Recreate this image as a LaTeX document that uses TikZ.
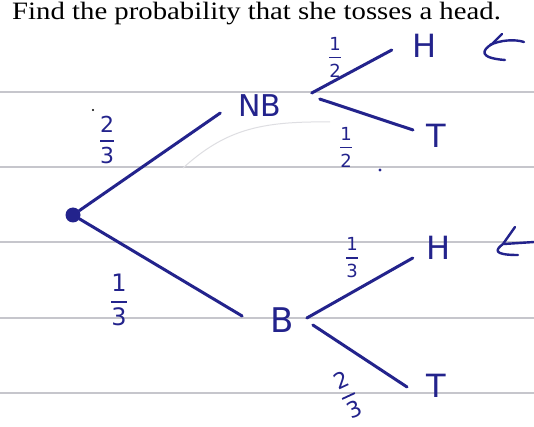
\documentclass[tikz,border=0pt]{standalone}
\usepackage{amsmath}
\usepackage{fontspec}
\setmainfont{Liberation Serif}
\newfontfamily\handfont{DejaVu Sans}
\definecolor{ink}{RGB}{35,35,140}
\definecolor{paper}{RGB}{198,198,204}
\definecolor{fold}{RGB}{222,222,226}
\newcommand\hfr[2]{$\genfrac{}{}{1.8pt}{0}{\mbox{#1}}{\mbox{#2}}$}
\begin{document}
\begin{tikzpicture}[x=1pt,y=-1pt,
  pen/.style={draw=ink, line width=3pt, line cap=round, line join=round},
  thinpen/.style={draw=ink, line width=2.4pt, line cap=round, line join=round},
  paperline/.style={draw=paper, line width=1.3pt},
  lbl/.style={inner sep=0pt, text=ink, font=\handfont\fontsize{32}{36}\selectfont},
  frc/.style={inner sep=0pt, text=ink, font=\handfont\fontsize{18}{20}\selectfont},
  bigfrc/.style={inner sep=0pt, text=ink, font=\handfont\fontsize{22}{24}\selectfont}]
\useasboundingbox[fill=white] (0,0) rectangle (534,427);

% ruled paper
\foreach \yy in {92,167,242,318,393} \draw[paperline] (0,\yy) -- (534,\yy);
\draw[draw=fold, line width=1pt] (183,168) .. controls (225,130) and (260,121) .. (330,122);

% question
\node[anchor=base west, inner sep=0pt, xscale=1.15, font=\fontsize{25}{29}\selectfont] (q) at (12,20)
  {Find the probability that she tosses a head.};

% tree nodes
\node[circle, fill=ink, inner sep=0pt, minimum size=15pt] (root) at (73,215) {};
\node[lbl, font=\handfont\fontsize{30}{34}\selectfont] (NB) at (260,106) {NB};
\node[lbl, font=\handfont\fontsize{34}{38}\selectfont] (B) at (282,320) {B};
\node[lbl] (H1) at (425,46) {H};
\node[lbl] (T1) at (436,136) {T};
\node[lbl] (H2) at (439,248) {H};
\node[lbl] (T2) at (436,386) {T};

% branches
\draw[pen] (root) -- ([shift={(-18,7)}]NB.west);
\draw[pen] (root) -- ([shift={(-28,-4)}]B.west);
\draw[pen] ([shift={(30,-13)}]NB.east) -- ([shift={(-21,4)}]H1.west);
\draw[pen] ([shift={(38,-7)}]NB.east) -- ([shift={(-13,-6)}]T1.west);
\draw[pen] ([shift={(13,-2)}]B.east) -- ([shift={(-14,10)}]H2.west);
\draw[pen] ([shift={(19,5)}]B.east) -- ([shift={(-19,1)}]T2.west);

% probabilities
\node[bigfrc] (p1) at (107,140) {\hfr{2}{3}};
\node[bigfrc, font=\handfont\fontsize{24}{26}\selectfont] (p2) at (119,300) {\hfr{1}{3}};
\node[frc] (p3) at (335,57) {\hfr{1}{2}};
\node[frc] (p4) at (346,147) {\hfr{1}{2}};
\node[frc] (p5) at (352,258) {\hfr{1}{3}};
\node[bigfrc, rotate=25] (p6) at (348,395) {\hfr{2}{3}};

% stray pen dots
\fill[black] (93,110) circle (1.2pt);
\fill[ink] (380,170) circle (1.6pt);

% pointer marks
\draw[thinpen] (502,34) -- (492,44) .. controls (482,50) and (478,58) .. (505,60);
\draw[thinpen] (490,45) .. controls (500,40) and (515,39) .. (524,42);
\draw[thinpen] (515,227) -- (503,244) .. controls (495,250) and (493,255) .. (518,255);
\draw[thinpen] (504,244) -- (534,242);
\end{tikzpicture}
\end{document}
